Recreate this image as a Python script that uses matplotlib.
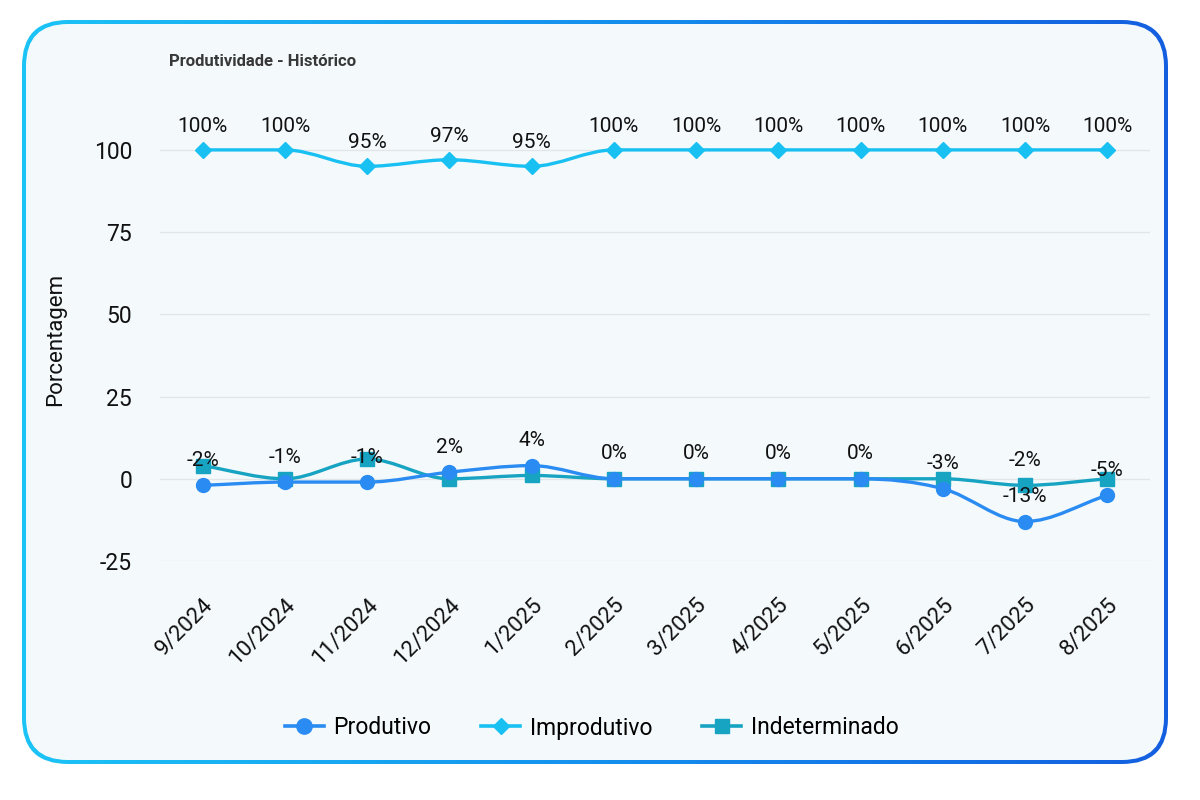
import numpy as np
import matplotlib
matplotlib.use("Agg")
import matplotlib.pyplot as plt
from matplotlib.patches import FancyBboxPatch, PathPatch
from matplotlib.path import Path
from matplotlib.lines import Line2D
from matplotlib.colors import LinearSegmentedColormap

plt.rcParams['font.family'] = ['Roboto', 'DejaVu Sans']
plt.rcParams['axes.unicode_minus'] = False

# data
meses = ["9/2024", "10/2024", "11/2024", "12/2024", "1/2025", "2/2025",
         "3/2025", "4/2025", "5/2025", "6/2025", "7/2025", "8/2025"]
produtivo = [-2, -1, -1, 2, 4, 0, 0, 0, 0, -3, -13, -5]
improdutivo = [100, 100, 95, 97, 95, 100, 100, 100, 100, 100, 100, 100]
indeterminado = [4, 0, 6, 0, 1, 0, 0, 0, 0, 0, -2, 0]
# only one Indeterminado label is visible in the reference (7/2025)
indeterminado_rotulos = {10: "-2%"}

COR_PROD = "#2a8cf2"
COR_IMPROD = "#19c0f2"
COR_INDET = "#17a3c2"
FUNDO = "#f4f9fc"

fig = plt.figure(figsize=(12, 8), dpi=100)
fig.patch.set_facecolor("white")

# card with gradient border
bg = fig.add_axes([0, 0, 1, 1])
bg.set_xlim(0, 1200)
bg.set_ylim(800, 0)
bg.axis("off")
outer = FancyBboxPatch((22, 20), 1146, 744, boxstyle="round,pad=0,rounding_size=46",
                       transform=bg.transData, facecolor="none", edgecolor="none")
bg.add_patch(outer)
grad = np.linspace(0, 1, 256).reshape(1, -1)
cmap = LinearSegmentedColormap.from_list("borda", ["#1cc4f6", "#1590ee", "#135fe0"])
img = bg.imshow(grad, extent=[22, 1168, 764, 20], cmap=cmap, aspect="auto")
img.set_clip_path(outer)
inner = FancyBboxPatch((26, 24), 1138, 736, boxstyle="round,pad=0,rounding_size=42",
                       transform=bg.transData, facecolor=FUNDO, edgecolor="none")
bg.add_patch(inner)
bg.text(169, 62, "Produtividade - Histórico", fontsize=12, fontweight="bold",
        color="#383838", va="center", ha="left")

ax = fig.add_axes([0.1333, 0.29875, 0.825, 0.555])
ax.set_facecolor("none")
x = np.arange(len(meses))
ax.set_xlim(-0.52, len(meses) - 0.48)
ax.set_ylim(-25, 110)


def curva(ax, xs, ys, cor):
    # monotone cubic (Fritsch-Carlson) drawn as bezier segments
    xs = np.asarray(xs, float)
    ys = np.asarray(ys, float)
    n = len(xs)
    dx = np.diff(xs)
    delta = np.diff(ys) / dx
    m = np.zeros(n)
    m[0], m[-1] = delta[0], delta[-1]
    for i in range(1, n - 1):
        m[i] = 0 if delta[i - 1] * delta[i] <= 0 else (delta[i - 1] + delta[i]) / 2
    for i in range(n - 1):
        if delta[i] == 0:
            m[i] = m[i + 1] = 0
            continue
        a, b = m[i] / delta[i], m[i + 1] / delta[i]
        s = a * a + b * b
        if s > 9:
            t = 3 / np.sqrt(s)
            m[i], m[i + 1] = t * a * delta[i], t * b * delta[i]
    verts = [(xs[0], ys[0])]
    codes = [Path.MOVETO]
    for i in range(n - 1):
        h = dx[i] / 3
        verts += [(xs[i] + h, ys[i] + m[i] * h),
                  (xs[i + 1] - h, ys[i + 1] - m[i + 1] * h),
                  (xs[i + 1], ys[i + 1])]
        codes += [Path.CURVE4] * 3
    ax.add_patch(PathPatch(Path(verts, codes), facecolor="none", edgecolor=cor,
                           lw=2.4, zorder=3, capstyle="round"))


curva(ax, x, improdutivo, COR_IMPROD)
curva(ax, x, indeterminado, COR_INDET)
curva(ax, x, produtivo, COR_PROD)
ax.plot(x, improdutivo, ls="none", marker="D", ms=8, color=COR_IMPROD, zorder=4)
ax.plot(x, indeterminado, ls="none", marker="s", ms=10, color=COR_INDET, zorder=4)
ax.plot(x, produtivo, ls="none", marker="o", ms=10, color=COR_PROD, zorder=5)

for xi, v in zip(x, improdutivo):
    ax.annotate(f"{v}%", (xi, v), xytext=(0, 17), textcoords="offset points",
                ha="center", va="center", fontsize=15, color="#111111", zorder=6)
for xi, v in zip(x, produtivo):
    ax.annotate(f"{v}%", (xi, v), xytext=(0, 18), textcoords="offset points",
                ha="center", va="center", fontsize=15, color="#111111", zorder=6)
for i, txt in indeterminado_rotulos.items():
    ax.annotate(txt, (x[i], indeterminado[i]), xytext=(0, 18), textcoords="offset points",
                ha="center", va="center", fontsize=15, color="#111111", zorder=6)

ax.set_yticks([-25, 0, 25, 50, 75, 100])
ax.grid(axis="y", color="#e2e6e9", lw=1)
ax.set_axisbelow(True)
for s in ax.spines.values():
    s.set_visible(False)
ax.tick_params(axis="y", length=0, pad=20, labelsize=16.5, labelcolor="#111111")
ax.set_xticks(x)
ax.set_xticklabels(meses, rotation=45, ha="right", rotation_mode="anchor",
                   fontsize=16, color="#111111")
ax.tick_params(axis="x", length=0, pad=24)
ax.set_ylabel("Porcentagem", fontsize=16, color="#111111", labelpad=20)

handles = [
    Line2D([], [], color=COR_PROD, lw=2.6, marker="o", ms=11),
    Line2D([], [], color=COR_IMPROD, lw=2.6, marker="D", ms=8),
    Line2D([], [], color=COR_INDET, lw=2.6, marker="s", ms=10),
]
fig.legend(handles, ["Produtivo", "Improdutivo", "Indeterminado"], loc="center",
           bbox_to_anchor=(0.493, 0.09), ncol=3, frameon=False, fontsize=16.5,
           handlelength=1.7, handletextpad=0.4, columnspacing=2.2)

fig.savefig("out.png", dpi=100, facecolor="white")
